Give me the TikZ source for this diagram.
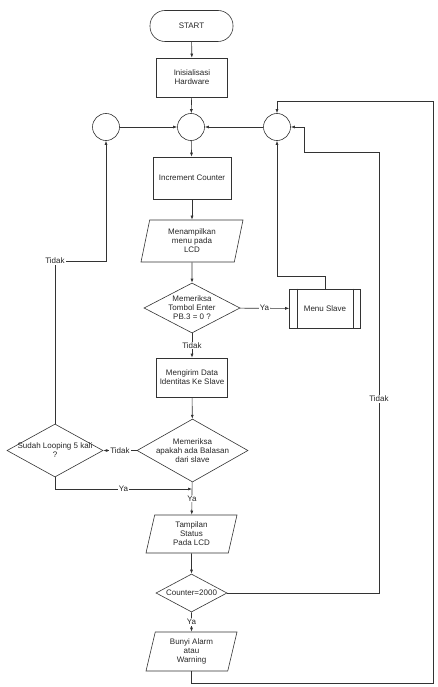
\documentclass[tikz,border=0pt]{standalone}
\usepackage{fontspec}
\setmainfont{Liberation Sans}
\usepackage{tikz}
\usetikzlibrary{arrows.meta,shapes.geometric,positioning,calc}
\definecolor{flowline}{HTML}{333333}

\begin{document}
\begin{tikzpicture}[x=1pt,y=-1pt,>={Latex[length=4pt,width=3pt]},
    every node/.style={font=\fontsize{8}{9}\selectfont,text=black!85,align=center},
    base/.style={draw=flowline,line width=0.6pt,inner sep=0pt},
    terminal/.style={base,rectangle,rounded corners=15pt,minimum width=83,minimum height=31},
    process/.style={base,rectangle,minimum width=71,minimum height=39},
    io/.style={base,trapezium,trapezium left angle=70,trapezium right angle=110,
      trapezium stretches body,minimum width=91,minimum height=38},
    decision/.style n args={3}{base,diamond,inner sep=-3pt,minimum width=#1,minimum height=#2,
      shape aspect=#3},
    joint/.style={base,circle,minimum size=27},
    lbl/.style={fill=white,inner sep=1pt},
    arr/.style={draw=flowline,line width=0.6pt,->}]
  \useasboundingbox (0,0) rectangle (437,687);
  % Main column
  \node[terminal] (start) at (191.5,26) {START};
  \node[process] (init) at (192,77.5) {Inisialisasi\\Hardware};
  \node[joint] (c1) at (106,127) {};
  \node[joint] (c2) at (191,127) {};
  \node[joint] (c3) at (277,127) {};
  \node[process,minimum width=78,minimum height=42] (inc) at (192,178) {Increment Counter};
  \node[io,minimum width=102,minimum height=42] (menu) at (192,241) {Menampilkan\\menu pada\\LCD};
  \node[decision={96}{50}{1.92}] (cek) at (192,308) {Memeriksa\\Tombol Enter\\PB.3 = 0 ?};
  \node[process] (slave) at (325,308.5) {Menu Slave};
  \draw[flowline,line width=0.6pt] ([xshift=8]slave.north west) -- ([xshift=8]slave.south west)
    ([xshift=-8]slave.north east) -- ([xshift=-8]slave.south east);
  \node[process] (kirim) at (192,377.5) {Mengirim Data\\Identitas Ke Slave};
  \node[decision={111}{63}{1.76}] (balas) at (192.5,450.5) {Memeriksa\\apakah ada Balasan\\dari slave};
  \node[decision={96}{53}{1.81}] (loop) at (55,450.5) {Sudah Looping 5 kali\\?};
  \node[io] (tampil) at (191.5,534) {Tampilan\\Status\\Pada LCD};
  \node[decision={71}{38}{1.87}] (cnt) at (191.5,593) {Counter=2000};
  \node[io,minimum height=39] (alarm) at (191.5,651.5) {Bunyi Alarm\\atau\\Warning};
  % Routing points
  \coordinate (merge) at (192,489);
  \coordinate (topR) at (433,101);
  \coordinate (botR) at (433,683);
  \coordinate (loopR) at (379,152);
  \coordinate (loopK) at (304,152);
  % Straight flow
  \draw[arr] (start) -- (init);
  \draw[arr] (init) -- (c2);
  \draw[arr] (c1) -- (c2);
  \draw[arr] (c3) -- (c2);
  \draw[arr] (c2) -- (inc);
  \draw[arr] (inc) -- (menu);
  \draw[arr] (menu) -- (cek);
  \draw[arr] (cek) -- node[lbl] {Ya} (slave);
  \draw[arr] (cek) -- node[lbl] {Tidak} (kirim);
  \draw[arr] (kirim) -- (balas);
  \draw[arr] (balas) -- node[lbl] {Tidak} (loop);
  \draw[arr] (balas) -- node[lbl] {Ya} (tampil);
  \draw[arr] (tampil) -- (cnt);
  \draw[arr] (cnt) -- node[lbl] {Ya} (alarm);
  % Loops back
  \draw[arr] (slave.north) -- ++(0,-12) -| (c3.south);
  \draw[arr] (loop.north) |- node[lbl,pos=0.5] {Tidak} (c1.south |- 0,261) -- (c1.south);
  \draw[arr] (loop.south) |- node[lbl,pos=0.75] {Ya} (merge);
  \draw[arr] (cnt.east) -| node[lbl,pos=0.72] {Tidak} (loopR) -- (loopK) |- (c3.east);
  \draw[arr] (alarm.south) |- (botR) -- (topR) -| (c3.north);
\end{tikzpicture}
\end{document}
